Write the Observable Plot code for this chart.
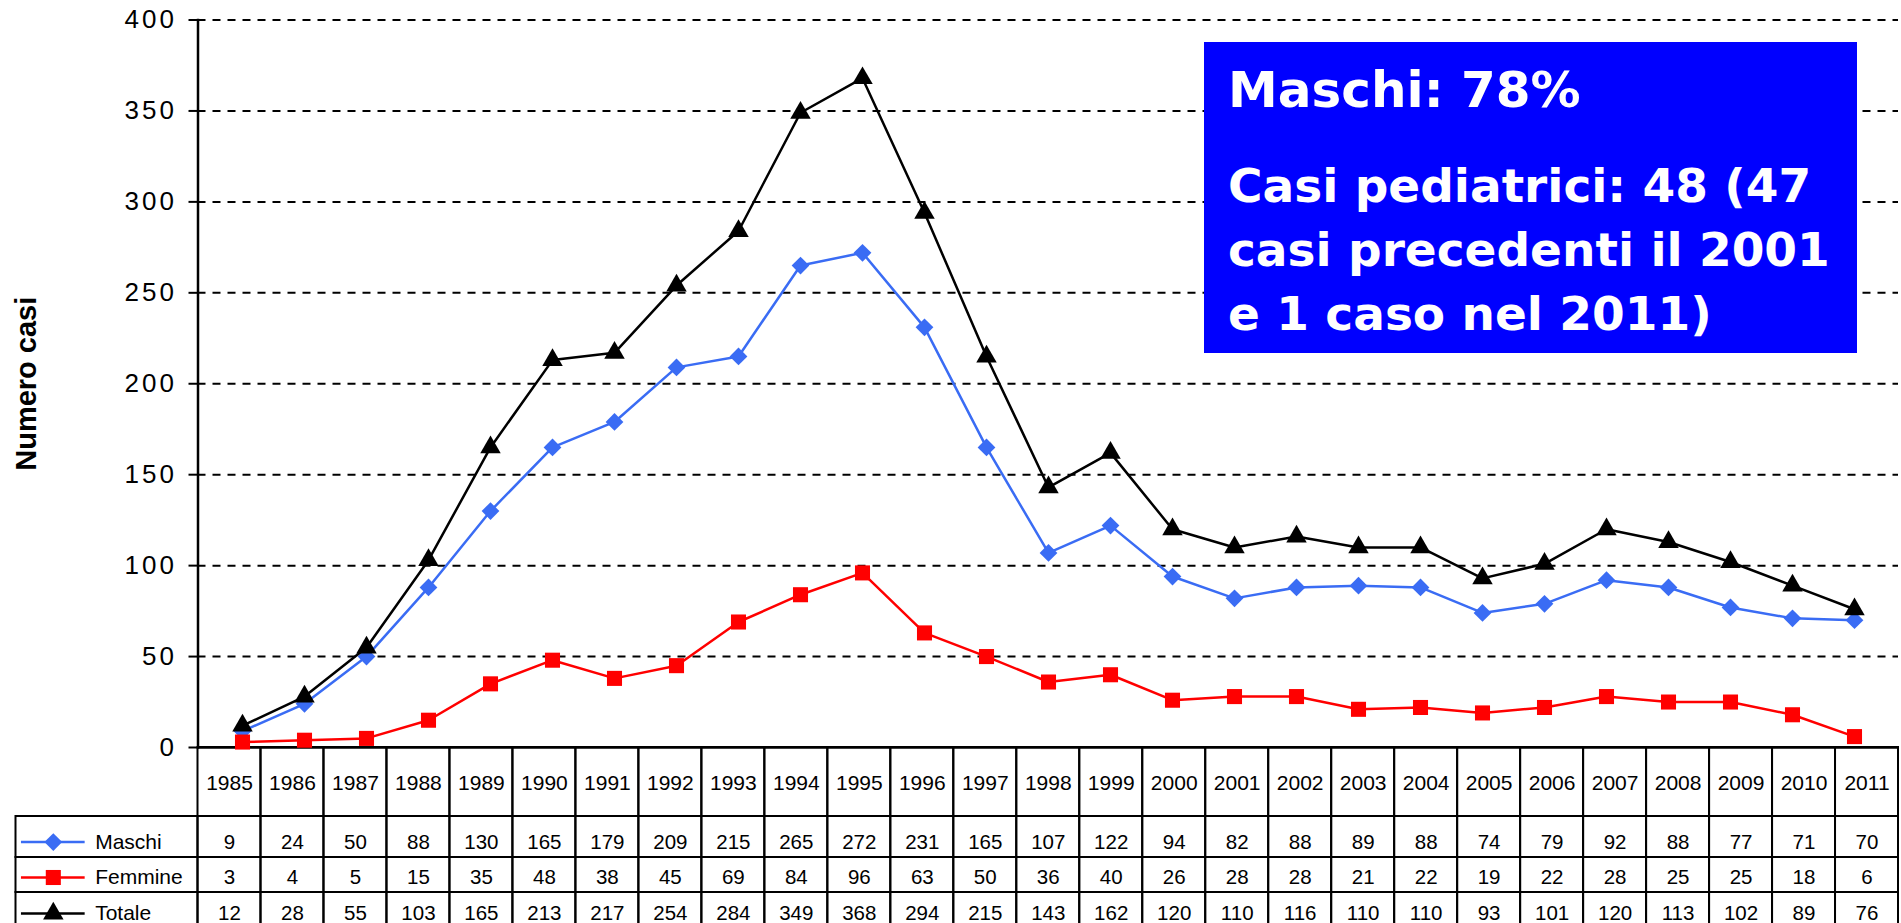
<!DOCTYPE html>
<html>
<head>
<meta charset="utf-8">
<script src="https://cdn.jsdelivr.net/npm/d3@7"></script>
<script src="https://cdn.jsdelivr.net/npm/@observablehq/plot@0.6"></script>
<style>
html, body { margin: 0; padding: 0; background: #fff; overflow: hidden; }
#wrap { position: relative; width: 1901px; height: 923px; overflow: hidden; }
#wrap svg { position: absolute; left: 0; top: 0; max-width: none; }
#box { position: absolute; left: 1204px; top: 42px; width: 653px; height: 311px; background: #0000ff; color: #fff;
  font-family: "DejaVu Sans", Verdana, sans-serif; font-weight: bold; box-sizing: border-box;
  padding: 15.7px 0 0 24px; white-space: nowrap; }
#box .l1 { font-size: 50px; line-height: 64px; }
#box .rest { font-size: 47px; line-height: 64px; margin-top: 32px; }
g[aria-label="y-axis tick label"] text { letter-spacing: 3px; }
g[aria-label="y-title"] text { letter-spacing: 0.5px; }
g[aria-label="legend-labels"] text { letter-spacing: 1.3px; }
g[aria-label="year-labels"] text { letter-spacing: -0.3px; }
</style>
</head>
<body>
<div id="wrap"></div>
<script>
// ---------- data ----------
const years = [1985, 1986, 1987, 1988, 1989, 1990, 1991, 1992, 1993, 1994, 1995, 1996, 1997, 1998,
               1999, 2000, 2001, 2002, 2003, 2004, 2005, 2006, 2007, 2008, 2009, 2010, 2011];
const maschi  = [9, 24, 50, 88, 130, 165, 179, 209, 215, 265, 272, 231, 165, 107, 122, 94, 82, 88, 89, 88, 74, 79, 92, 88, 77, 71, 70];
const femmine = [3, 4, 5, 15, 35, 48, 38, 45, 69, 84, 96, 63, 50, 36, 40, 26, 28, 28, 21, 22, 19, 22, 28, 25, 25, 18, 6];
const totale  = [12, 28, 55, 103, 165, 213, 217, 254, 284, 349, 368, 294, 215, 143, 162, 120, 110, 116, 110, 110, 93, 101, 120, 113, 102, 89, 76];
const seriesNames = ["Maschi", "Femmine", "Totale"];
const yTicks = [0, 50, 100, 150, 200, 250, 300, 350, 400];
const yLabel = "Numero casi";
const boxLines = ["Maschi: 78%", "Casi pediatrici: 48 (47", "casi precedenti il 2001", "e 1 caso nel 2011)"];

// ---------- styles / layout ----------
const seriesColors = ["#3a6cf4", "#ff0000", "#000000"];
const seriesSymbols = ["diamond2", "square", "triangle"];
const seriesR = [8.0, 8.5, 7.6];
const W = 1901, H = 923;
const mLeft = 197.5, mRight = 3, mTop = 19.5, axisBase = 747;
const font = "'Liberation Sans', Arial, Helvetica, sans-serif";

const seriesValues = [maschi, femmine, totale];
const records = seriesValues.map((vals, k) =>
  years.map((yr, i) => ({year: yr, idx: i, value: vals[i], serie: seriesNames[k], k})));

// ---------- chart ----------
const chartMarks = [
  Plot.ruleY(yTicks.filter(d => d > 0), {stroke: "#000", strokeWidth: 2, strokeDasharray: "8,7"}),
  Plot.axisY({ticks: yTicks, tickSize: 9, tickPadding: 12, fontSize: 26, strokeWidth: 2, label: null, tickFormat: d => String(d)}),
  Plot.frame({anchor: "left", strokeWidth: 2.5}),
  Plot.ruleY([0], {strokeWidth: 2.5}),
  Plot.text([yLabel], {frameAnchor: "left", textAnchor: "middle", text: d => d, rotate: -90, dx: -171, fontSize: 29, fontWeight: "bold", ariaLabel: "y-title"})
];
records.forEach((recs, k) => {
  chartMarks.push(Plot.line(recs, {x: "year", y: "value", stroke: seriesColors[k], strokeWidth: 2.5}));
  chartMarks.push(Plot.dot(recs, {x: "year", y: "value", symbol: seriesSymbols[k], fill: seriesColors[k], stroke: "none", r: seriesR[k]}));
});

const chart = Plot.plot({
  width: W, height: H,
  marginLeft: mLeft, marginRight: mRight, marginTop: mTop, marginBottom: H - axisBase,
  style: {background: "transparent", fontFamily: font, color: "#000", overflow: "visible"},
  x: {type: "band", domain: years, padding: 0, axis: null},
  y: {domain: [0, 400], axis: null},
  marks: chartMarks
});

// ---------- table (below the axis) ----------
const nCols = years.length;
const colPx = (W - mRight - mLeft) / nCols;
const tLeft = 15.5;
const L = (mLeft - tLeft) / colPx;            // legend column width in column units
const rowEdges = [axisBase, 816, 857, 892, 934];
const rowMid = [783, 841.6, 877, 913];

const cells = [];
years.forEach((yr, i) => cells.push({x1: i, x2: i + 1, y1: rowEdges[0], y2: rowEdges[1]}));
seriesNames.forEach((s, k) => {
  cells.push({x1: -L, x2: 0, y1: rowEdges[k + 1], y2: rowEdges[k + 2]});
  years.forEach((yr, i) => cells.push({x1: i, x2: i + 1, y1: rowEdges[k + 1], y2: rowEdges[k + 2]}));
});
const legendRows = seriesNames.map((s, k) => ({name: s, k, y: rowMid[k + 1]}));

const tableMarks = [
  Plot.rect(cells, {x1: "x1", x2: "x2", y1: "y1", y2: "y2", fill: "none", stroke: "#000", strokeWidth: 2}),
  Plot.text(years, {x: (d, i) => i + 0.5, y: rowMid[0], text: d => String(d), fontSize: 21, ariaLabel: "year-labels"}),
  Plot.ruleY(legendRows, {y: "y", x1: -L * 0.97, x2: -L * 0.62, stroke: (d) => seriesColors[d.k], strokeWidth: 2.5}),
  Plot.text(legendRows, {x: -L * 0.565, y: "y", text: "name", textAnchor: "start", fontSize: 21, ariaLabel: "legend-labels"})
];
legendRows.forEach((d, k) => {
  tableMarks.push(Plot.dot([d], {x: -L * 0.795, y: "y", symbol: seriesSymbols[k], fill: seriesColors[k], stroke: "none", r: seriesR[k]}));
});
records.forEach((recs, k) => {
  tableMarks.push(Plot.text(recs, {x: d => d.idx + 0.5, y: rowMid[k + 1], text: d => String(d.value), fontSize: 20.5}));
});

const table = Plot.plot({
  width: W, height: H,
  marginLeft: tLeft, marginRight: mRight, marginTop: 0, marginBottom: 0,
  style: {background: "transparent", fontFamily: font, color: "#000"},
  x: {type: "linear", domain: [-L, nCols], axis: null},
  y: {type: "identity", axis: null},
  color: {type: "identity"},
  marks: tableMarks
});

const wrap = document.getElementById("wrap");
wrap.appendChild(table);
wrap.appendChild(chart);

// ---------- text box ----------
const box = document.createElement("div");
box.id = "box";
const l1 = document.createElement("div");
l1.className = "l1";
l1.textContent = boxLines[0];
const rest = document.createElement("div");
rest.className = "rest";
boxLines.slice(1).forEach(t => { const d = document.createElement("div"); d.textContent = t; rest.appendChild(d); });
box.appendChild(l1);
box.appendChild(rest);
wrap.appendChild(box);
</script>
</body>
</html>
